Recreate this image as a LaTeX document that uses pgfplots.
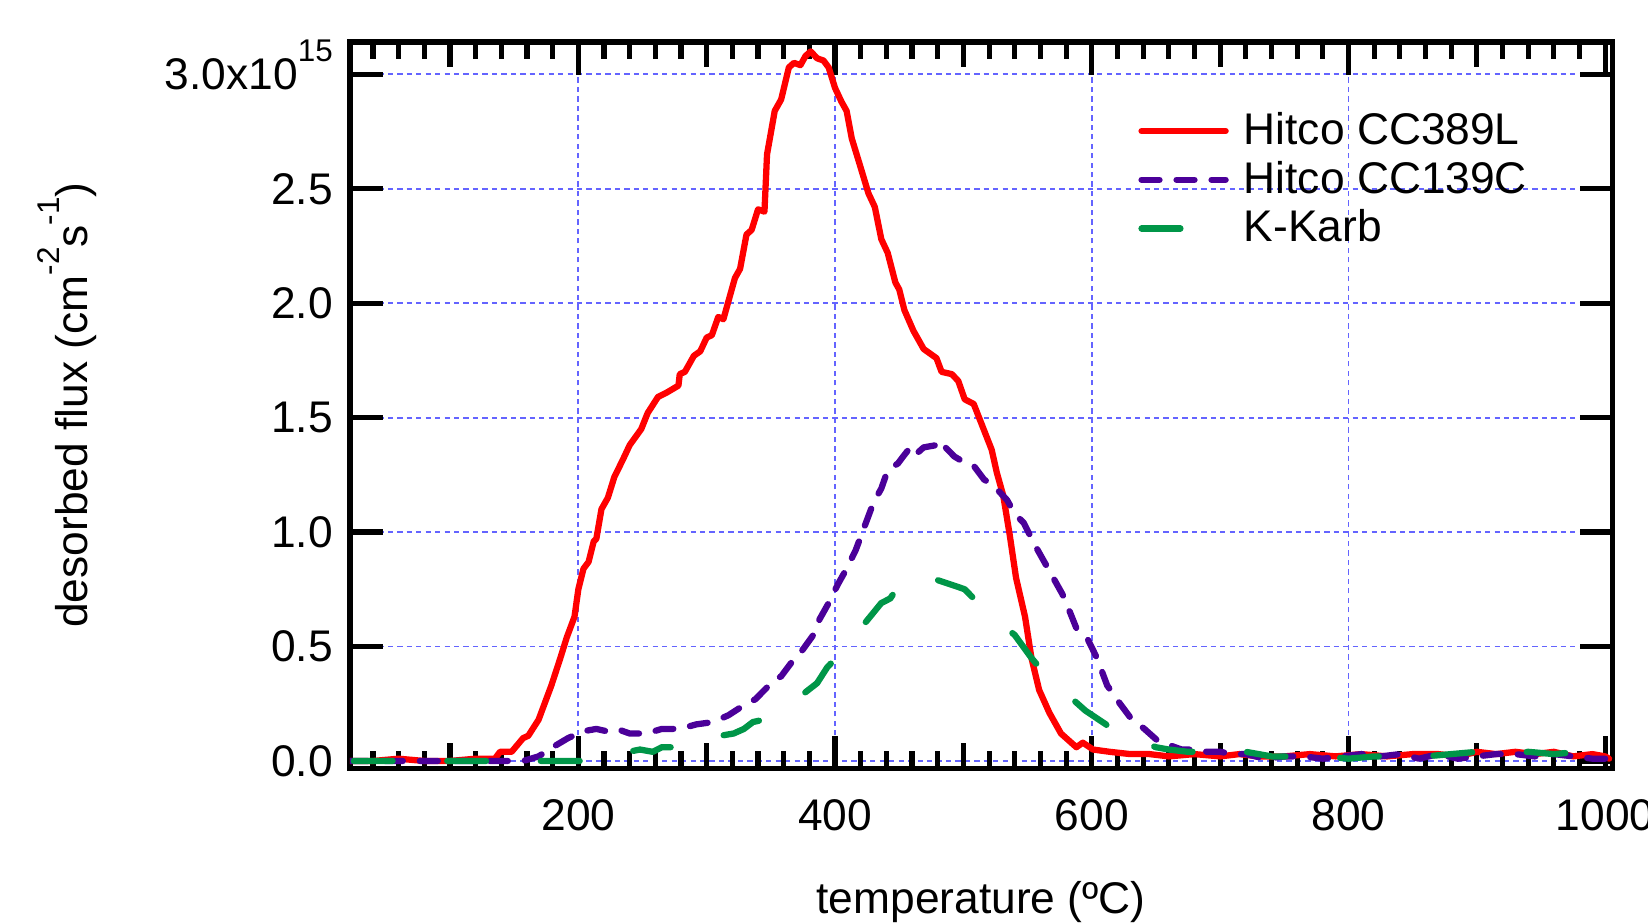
\documentclass[border=0pt]{standalone}
\usepackage{pgfplots}
\pgfplotsset{compat=1.18}
\usepackage{fontspec}
\setmainfont{Liberation Sans}

\definecolor{cred}{RGB}{255,0,0}
\definecolor{cpurple}{RGB}{75,0,153}
\definecolor{cgreen}{RGB}{0,150,72}
\definecolor{cgrid}{RGB}{100,100,255}

\newcommand{\ssup}[1]{\smash{\raisebox{7.5pt}{\fontsize{8.5}{10}\selectfont #1}}}

\begin{document}
\begin{tikzpicture}
\begin{axis}[
  scale only axis, width=12.01cm, height=6.91cm,
  xmin=22.1, xmax=1005.5, ymin=-0.032, ymax=3.141,
  font=\fontsize{12}{14}\selectfont,
  axis line style={line width=1.4pt},
  tick style={line width=1.4pt, black},
  tick align=inside,
  major tick length=0.31cm, minor tick length=0.16cm,
  xtick={200,400,600,800,1000},
  xticklabels={200,400,600,800,1000},
  minor xtick={40,60,80,120,140,160,180,220,240,260,280,320,340,360,380,420,440,460,480,520,540,560,580,620,640,660,680,720,740,760,780,820,840,860,880,920,940,960,980},
  extra x ticks={100,300,500,700,900},
  extra x tick labels={},
  extra x tick style={major tick length=0.24cm},
  ytick={0,0.5,1,1.5,2,2.5,3},
  yticklabels={0.0,0.5,1.0,1.5,2.0,2.5,{3.0x10\ssup{15}}},
  xticklabel style={yshift=-0.17cm},
  yticklabel style={xshift=-0.04cm},
  xmajorgrids=false, ymajorgrids=true,
  major grid style={cgrid, line width=0.5pt, dash pattern=on 0.05cm off 0.04cm},
  xlabel={temperature (ºC)},
  ylabel={desorbed flux (cm\ssup{-2}s\ssup{-1})},
  xlabel style={at={(axis description cs:0.5,-0.1838)}, anchor=center},
  ylabel style={at={(axis description cs:-0.2173,0.5)}, anchor=center},
  legend style={at={(rel axis cs:0.624,0.912)}, anchor=north west, draw=none, fill=none,
    inner sep=0pt, nodes={inner sep=1.5pt}, column sep=0.09cm},
  legend cell align=left,
  legend image code/.code={\draw[#1] (0cm,0cm) -- (0.8cm,0cm);},
  every axis plot/.append style={line width=1.7pt, line cap=round, line join=round},
]
% vertical grid lines between the tick marks (none at 1000, as in the original)
\foreach \gx in {200,400,600,800} {
  \edef\tmp{\noexpand\draw[cgrid, line width=0.5pt, dash pattern=on 0.05cm off 0.04cm]
    (axis cs:\gx,0.112) -- (axis cs:\gx,2.997);}
  \tmp
}
\addplot[cred] coordinates {
(22,0.00)(40,0.00)(60,0.01)(80,0.00)(100,0.00)(120,0.01)(135,0.01)(139,0.04)(148,0.04)
(157,0.10)(161,0.11)(169,0.18)(179,0.33)(186,0.45)(191,0.54)(197,0.63)(200,0.75)(204,0.84)
(208,0.87)(212,0.96)(214,0.97)(218,1.10)(223,1.15)(228,1.24)(235,1.32)(240,1.38)(249,1.45)
(254,1.52)(262,1.59)(269,1.61)(278,1.64)(279,1.69)(283,1.70)(290,1.77)(295,1.79)(300,1.85)
(304,1.86)(309,1.94)(313,1.93)(317,2.01)(322,2.11)(326,2.15)(331,2.30)(335,2.32)(340,2.41)
(345,2.40)(347,2.65)(353,2.84)(358,2.89)(364,3.03)(368,3.05)(373,3.04)(377,3.08)(381,3.10)
(386,3.07)(391,3.06)(395,3.03)(400,2.94)(405,2.88)(409,2.84)(413,2.72)(419,2.61)(426,2.48)
(431,2.42)(436,2.28)(441,2.22)(447,2.09)(450,2.06)(454,1.97)(461,1.88)(469,1.80)(479,1.76)
(483,1.70)(491,1.69)(496,1.66)(501,1.58)(508,1.56)(515,1.46)(522,1.36)(526,1.26)(531,1.16)
(536,0.99)(541,0.80)(548,0.63)(553,0.45)(559,0.31)(567,0.21)(576,0.12)(588,0.06)(593,0.08)
(601,0.05)(614,0.04)(630,0.03)(645,0.03)(660,0.02)(680,0.03)(700,0.02)(715,0.03)(730,0.02)
(750,0.02)(770,0.03)(790,0.02)(810,0.03)(830,0.02)(850,0.03)(870,0.03)(885,0.02)(900,0.04)
(915,0.03)(930,0.04)(945,0.03)(960,0.04)(975,0.02)(990,0.03)(1000,0.02)(1003,0.01)
};
\addlegendentry{Hitco CC389L}
\addplot[cpurple, dash pattern=on 0.171cm off 0.162cm] coordinates {
(22,0.00)(60,0.00)(100,0.00)(130,0.00)(157,0.00)(169,0.02)(180,0.06)(192,0.10)(204,0.13)
(214,0.14)(222,0.13)(230,0.14)(240,0.12)(253,0.12)(265,0.14)(279,0.14)(292,0.16)(305,0.17)
(317,0.20)(328,0.24)(338,0.27)(352,0.35)(358,0.37)(366,0.43)(374,0.48)(383,0.55)(388,0.62)
(396,0.70)(402,0.77)(409,0.84)(416,0.92)(422,1.01)(430,1.13)(436,1.19)(441,1.27)(449,1.30)
(453,1.33)(460,1.38)(465,1.35)(469,1.37)(479,1.38)(483,1.35)(486,1.37)(493,1.33)(502,1.30)
(508,1.29)(516,1.23)(524,1.20)(534,1.14)(540,1.08)(547,1.04)(556,0.94)(562,0.88)(570,0.80)
(577,0.73)(583,0.65)(588,0.58)(597,0.53)(604,0.45)(612,0.33)(622,0.25)(630,0.19)(641,0.14)
(651,0.09)(660,0.07)(670,0.05)(680,0.05)(690,0.04)(700,0.04)(710,0.03)(720,0.03)(735,0.01)
(750,0.02)(765,0.02)(780,0.01)(795,0.02)(810,0.03)(825,0.02)(840,0.03)(855,0.01)(870,0.03)
(885,0.01)(900,0.02)(915,0.03)(930,0.03)(945,0.02)(960,0.03)(975,0.02)(990,0.01)(1000,0.01)
};
\addlegendentry{Hitco CC139C}
\addplot[cgreen, dash pattern=on 0.37cm off 0.52cm] coordinates {
(25,0.00)(60,0.00)(100,0.00)(140,0.00)(180,0.00)(208,0.00)(230,0.03)(248,0.05)(258,0.04)
(265,0.06)(274,0.06)(282,0.08)(300,0.10)(321,0.12)(329,0.14)(336,0.17)(344,0.18)(353,0.21)
(370,0.27)(386,0.34)(394,0.41)(401,0.45)(409,0.49)(420,0.58)(436,0.69)(443,0.71)(449,0.76)
(457,0.79)(458,0.80)(463,0.78)(480,0.79)(496,0.76)(501,0.75)(508,0.71)(514,0.66)(523,0.63)
(540,0.55)(553,0.45)(562,0.39)(570,0.34)(579,0.30)(595,0.22)(611,0.16)(621,0.10)(631,0.09)
(640,0.08)(650,0.06)(660,0.05)(675,0.04)(690,0.04)(705,0.03)(720,0.04)(740,0.02)(760,0.02)
(780,0.02)(800,0.01)(820,0.02)(840,0.02)(860,0.02)(880,0.03)(900,0.04)(920,0.03)(940,0.04)
(960,0.03)(980,0.04)(995,0.03)
};
\addlegendentry{K-Karb}
\end{axis}
\pgfresetboundingbox
\path[use as bounding box] ([xshift=-3.33cm,yshift=-1.47cm]current axis.south west)
  rectangle ([xshift=0.34cm,yshift=0.40cm]current axis.north east);
\end{tikzpicture}
\end{document}
